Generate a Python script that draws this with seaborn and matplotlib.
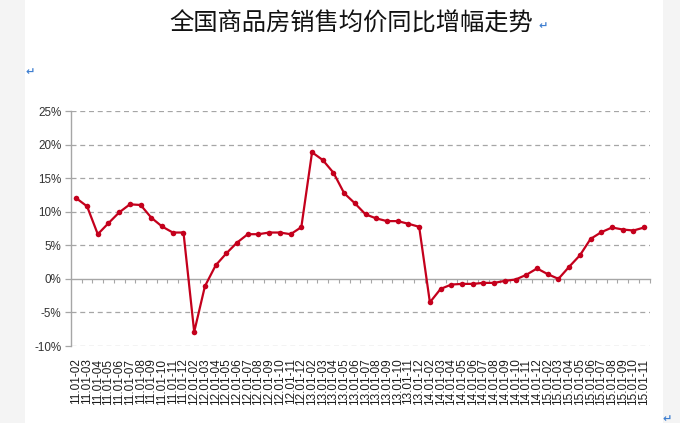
import matplotlib
matplotlib.use("Agg")
import matplotlib.pyplot as plt
import matplotlib.ticker as mticker
from matplotlib.patches import Rectangle
import seaborn as sns
import pandas as pd

title = "全国商品房销售均价同比增幅走势"

labels = (
    [f"11.01-{m:02d}" for m in range(2, 13)]
    + [f"12.01-{m:02d}" for m in range(2, 13)]
    + [f"13.01-{m:02d}" for m in range(2, 13)]
    + [f"14.01-{m:02d}" for m in range(2, 13)]
    + [f"15.01-{m:02d}" for m in range(2, 12)]
)

values_2011 = [12.0, 10.8, 6.65, 8.3, 9.9, 11.1, 11.0, 9.1, 7.8, 6.9, 6.9]
values_2012 = [-7.9, -1.1, 2.0, 3.8, 5.4, 6.65, 6.65, 6.9, 6.9, 6.65, 7.7]
values_2013 = [18.85, 17.7, 15.8, 12.75, 11.25, 9.6, 9.0, 8.6, 8.6, 8.2, 7.75]
values_2014 = [-3.5, -1.5, -0.85, -0.75, -0.75, -0.6, -0.6, -0.3, -0.1, 0.6, 1.55]
values_2015 = [0.7, 0.0, 1.8, 3.5, 5.95, 6.95, 7.65, 7.35, 7.2, 7.65]

values = values_2011 + values_2012 + values_2013 + values_2014 + values_2015
yticks = [-10, -5, 0, 5, 10, 15, 20, 25]

df = pd.DataFrame({"idx": range(len(labels)), "label": labels, "value": values})

sns.set_style("white")
plt.rcParams["font.family"] = ["Liberation Sans", "DejaVu Sans"]

W, H = 680, 423
fig = plt.figure(figsize=(W / 100, H / 100), dpi=100, facecolor="#f4f4f4")
fig.patches.append(Rectangle((25 / W, 0), (663 - 25) / W, 1, transform=fig.transFigure,
                             facecolor="white", edgecolor="none", zorder=-5))

left, right, top, bottom = 71, 649.5, 111, 346
ax = fig.add_axes([left / W, (H - bottom) / H, (right - left) / W, (bottom - top) / H])
ax.set_zorder(2)
ax.set_facecolor("white")

sns.lineplot(data=df, x="idx", y="value", ax=ax, color="#c4001c", linewidth=1.6,
             marker="o", markersize=4, markeredgewidth=0, zorder=5)

ax.set_xlim(-0.5, len(labels) - 0.5)
ax.set_ylim(-10, 25)
ax.set_yticks(yticks)
ax.yaxis.set_major_formatter(mticker.FuncFormatter(lambda v, p: f"{int(v)}%"))
for y in yticks:
    if y != 0:
        ax.axhline(y, color="#a6a6a6", linewidth=0.9, linestyle=(0, (4, 3)), zorder=1)
ax.tick_params(axis="y", length=4, width=0.9, color="#a6a6a6", labelsize=8.4,
               labelcolor="#333333", pad=3, direction="out", left=True)

ax.set_xticks(range(len(labels)))
ax.set_xticklabels(labels, rotation=90, fontsize=8.5, color="#1a1a1a")
ax.tick_params(axis="x", length=0, pad=9, bottom=True)

for s in ["top", "right", "bottom"]:
    ax.spines[s].set_visible(False)
ax.spines["left"].set_color("#a6a6a6")
ax.spines["left"].set_linewidth(1.0)

# zero axis line with category boundary ticks
sec = ax.secondary_xaxis(10 / 35)
sec.spines["bottom"].set_color("#a6a6a6")
sec.spines["bottom"].set_linewidth(1.0)
sec.set_xticks([i + 0.5 for i in range(len(labels))])
sec.set_xticklabels([])
sec.tick_params(axis="x", length=3, width=0.8, color="#a6a6a6", direction="out")
for s in ["top", "left", "right"]:
    sec.spines[s].set_visible(False)

ax.set_xlabel("")
ax.set_ylabel("")

fig.text(351 / W, 1 - 24 / H, title, ha="center", va="center", fontsize=17.5,
         family=["Noto Sans CJK SC", "DejaVu Sans"], color="#111111")
for (x, y) in [(543, 26), (30, 72), (667, 419)]:
    fig.text(x / W, 1 - y / H, "↵", ha="center", va="center", fontsize=8,
             color="#3f7fd0", family=["DejaVu Sans"], fontweight="bold")

fig.savefig("out.png", dpi=100, facecolor=fig.get_facecolor())
